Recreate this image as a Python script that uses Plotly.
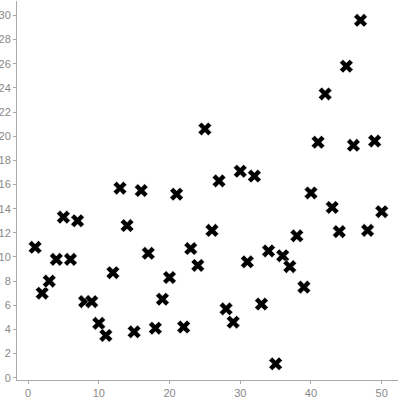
import plotly.graph_objects as go

xs = list(range(1, 51))
ys = [10.8, 7.0, 8.0, 9.8, 13.3, 9.8, 13.0, 6.3, 6.3, 4.5,
      3.5, 8.7, 15.7, 12.6, 3.8, 15.5, 10.3, 4.1, 6.5, 8.3,
      15.2, 4.2, 10.7, 9.3, 20.6, 12.2, 16.3, 5.7, 4.6, 17.1,
      9.6, 16.7, 6.1, 10.5, 1.15, 10.1, 9.2, 11.75, 7.5, 15.3,
      19.5, 23.5, 14.1, 12.1, 25.8, 19.25, 29.6, 12.2, 19.6, 13.75]

fig = go.Figure(go.Scatter(
    x=xs, y=ys, mode="markers",
    marker=dict(symbol="x", size=12, color="black", line=dict(width=0.5, color="white")),
))

axis_common = dict(
    showgrid=False, zeroline=False, showline=True, linecolor="#aaaaaa", linewidth=1,
    ticks="outside", tickcolor="#aaaaaa", ticklen=3, automargin=False,
    tickfont=dict(family="Liberation Sans, Arial, sans-serif", size=11, color="#888888"),
)

fig.update_layout(
    width=400, height=400,
    margin=dict(l=17, r=2, t=1, b=20),
    paper_bgcolor="white", plot_bgcolor="white",
    showlegend=False,
    xaxis=dict(range=[-1.56, 52.3], tick0=0, dtick=10, **axis_common),
    yaxis=dict(range=[-0.19, 31.2], tick0=0, dtick=2, **axis_common),
)

fig.write_html("out.html", config={"displayModeBar": False},
               post_script="document.body.style.margin='0';")
